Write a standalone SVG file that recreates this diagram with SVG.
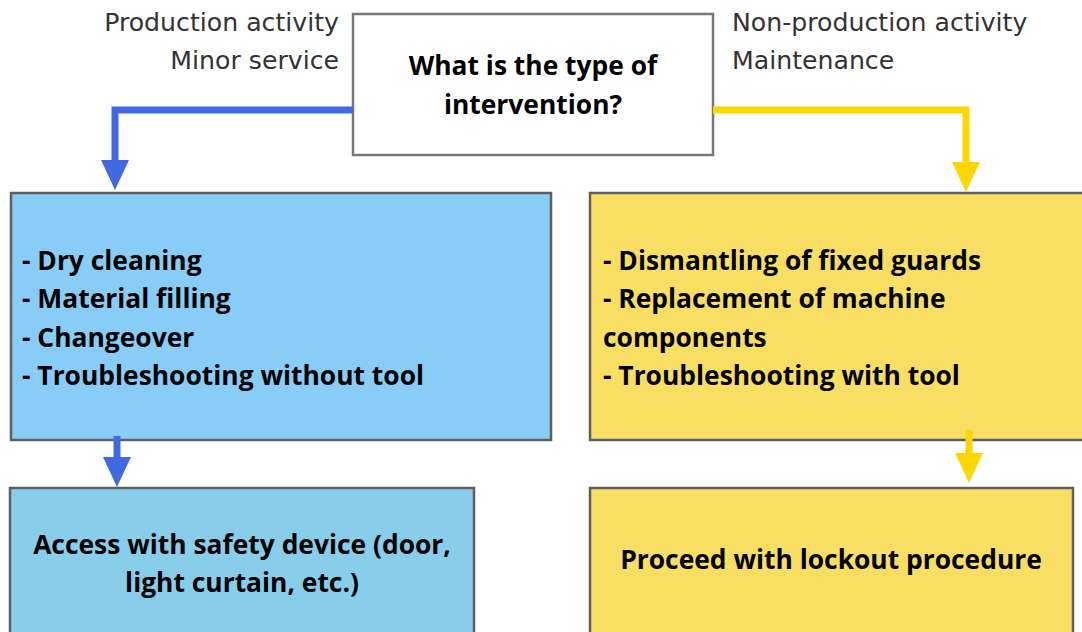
<svg xmlns="http://www.w3.org/2000/svg" width="1082" height="632" viewBox="0 0 1082 632">
<style>
.lbl{font-family:"DejaVu Sans",sans-serif;font-size:25.2px;fill:#333}
.b{font-family:"Open Sans","Liberation Sans",sans-serif;font-weight:700;font-size:26.4px;fill:#000}
.box{stroke:#5f5f5f;stroke-width:2.5}
.blue{fill:none;stroke:#4169E1;stroke-width:7}
.yel{fill:none;stroke:#FFD700;stroke-width:7}
</style>
<defs>
<marker id="ab" markerUnits="userSpaceOnUse" viewBox="0 0 30 28" refX="0" refY="14" markerWidth="30" markerHeight="28" orient="auto"><path d="M0,0 L30,14 L0,28 z" fill="#4169E1"/></marker>
<marker id="ay" markerUnits="userSpaceOnUse" viewBox="0 0 30 28" refX="0" refY="14" markerWidth="30" markerHeight="28" orient="auto"><path d="M0,0 L30,14 L0,28 z" fill="#FFD700"/></marker>
</defs>
<rect width="1082" height="632" fill="#fff"/>
<g id="labels">
<text class="lbl" x="339" y="31" text-anchor="end">Production activity</text>
<text class="lbl" x="339" y="69" text-anchor="end">Minor service</text>
<text class="lbl" x="732" y="31">Non-production activity</text>
<text class="lbl" x="732" y="69">Maintenance</text>
</g>
<g id="question">
<rect x="353" y="14" width="360" height="141" fill="#fff" stroke="#777" stroke-width="2.5"/>
<text class="b" x="533" y="75" text-anchor="middle">What is the type of</text>
<text class="b" x="533" y="114" text-anchor="middle">intervention?</text>
</g>
<g id="production">
<rect class="box" x="11" y="193" width="540" height="247" fill="#88CCF8"/>
<text class="b" x="22" y="270">- Dry cleaning</text>
<text class="b" x="22" y="308">- Material filling</text>
<text class="b" x="22" y="347">- Changeover</text>
<text class="b" x="22" y="385">- Troubleshooting without tool</text>
</g>
<g id="maintenance">
<rect class="box" x="590" y="193" width="500" height="247" fill="#F8DF63"/>
<text class="b" x="603" y="270">- Dismantling of fixed guards</text>
<text class="b" x="603" y="308">- Replacement of machine</text>
<text class="b" x="603" y="347">components</text>
<text class="b" x="603" y="385">- Troubleshooting with tool</text>
</g>
<g id="access">
<rect class="box" x="10" y="488" width="464" height="170" fill="#88CDEA"/>
<text class="b" x="242" y="554" text-anchor="middle">Access with safety device (door,</text>
<text class="b" x="242" y="592" text-anchor="middle">light curtain, etc.)</text>
</g>
<g id="lockout">
<rect class="box" x="590" y="488" width="483" height="170" fill="#F8DF63"/>
<text class="b" x="831" y="569" text-anchor="middle">Proceed with lockout procedure</text>
</g>
<g id="connectors">
<path class="blue" d="M353,110 H115 V160" marker-end="url(#ab)"/>
<path class="yel" d="M713,110 H966 V162" marker-end="url(#ay)"/>
<path class="blue" d="M117,436 V457" marker-end="url(#ab)"/>
<path class="yel" d="M969,430 V453" marker-end="url(#ay)"/>
</g>
</svg>
